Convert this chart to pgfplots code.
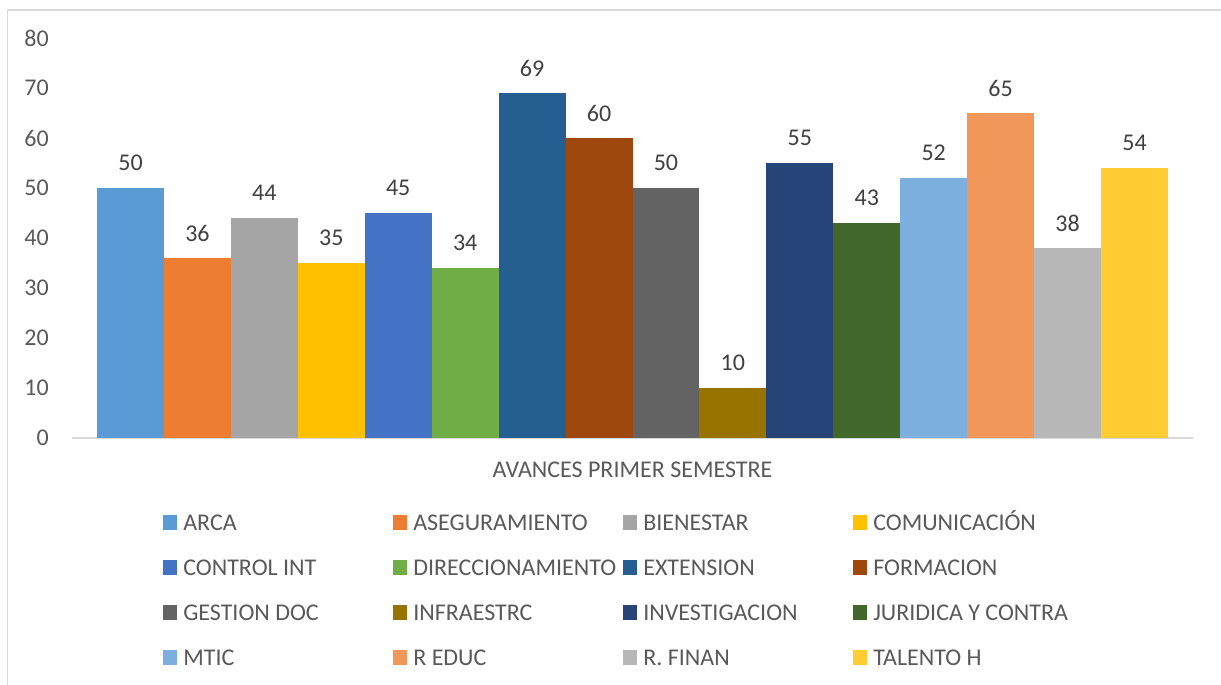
\documentclass[border=0pt]{standalone}
\usepackage{pgfplots}
\pgfplotsset{compat=1.18}
\usepackage{fontspec}
\setmainfont{Carlito}
\newlength\px \setlength\px{0.75pt}
\definecolor{c1}{HTML}{5B9BD5}
\definecolor{c2}{HTML}{ED7D31}
\definecolor{c3}{HTML}{A5A5A5}
\definecolor{c4}{HTML}{FFC000}
\definecolor{c5}{HTML}{4472C4}
\definecolor{c6}{HTML}{70AD47}
\definecolor{c7}{HTML}{255E91}
\definecolor{c8}{HTML}{9E480E}
\definecolor{c9}{HTML}{636363}
\definecolor{c10}{HTML}{997300}
\definecolor{c11}{HTML}{264478}
\definecolor{c12}{HTML}{43682B}
\definecolor{c13}{HTML}{7CAFDD}
\definecolor{c14}{HTML}{F1975A}
\definecolor{c15}{HTML}{B7B7B7}
\definecolor{c16}{HTML}{FFCD33}
\definecolor{txt}{HTML}{595959}
\definecolor{lbl}{HTML}{404040}
\definecolor{axl}{HTML}{D9D9D9}
\newcommand\lf{\fontsize{18}{21.6}\selectfont}
\newcommand\legtxt[1]{\makebox[209.7\px][l]{#1}}
\begin{document}
\begin{tikzpicture}
\useasboundingbox (0,0) rectangle (1221\px,685\px);
\draw[axl, line width=1.5\px] (7.5\px,0) -- (7.5\px,675.2\px) -- (1221\px,675.2\px);
\begin{axis}[
  at={(72\px,247\px)}, anchor=south west,
  scale only axis, width=1121\px, height=400\px,
  xmin=0.126, xmax=16.874, ymin=0, ymax=80,
  ybar, bar width=1,
  axis lines*=left,
  y axis line style={draw=none},
  x axis line style={axl, line width=1.5\px},
  major tick length=0pt,
  ytick={0,10,...,80},
  xtick={8.5}, xticklabels={AVANCES PRIMER SEMESTRE},
  /pgf/number format/assume math mode=true,
  tick label style={font=\lf, text=txt},
  yticklabel style={inner sep=0pt, xshift=-23\px},
  xticklabel style={anchor=center, inner sep=0pt, yshift=-31.5\px},
  nodes near coords,
  every node near coord/.append style={font=\lf, text=lbl, anchor=center, inner sep=0pt, yshift=25\px},
  legend columns=4,
  legend cell align=left,
  legend style={at={(axis description cs:0.08118,-0.1925)}, anchor=north west,
    draw=none, inner sep=0pt, outer sep=0pt, row sep=30\px, font=\lf, text=txt,
    nodes={inner sep=0pt, text height=15\px, text depth=0pt},
    /tikz/every odd column/.style={column sep=6\px},
    /tikz/every even column/.style={column sep=0pt}},
  legend image code/.code={\fill[#1] (0pt,-7.15\px) rectangle (14.3\px,7.15\px);},
]
\addplot[fill=c1, draw=none, bar shift=0pt] coordinates {(1,50)}; \addlegendentry{\legtxt{ARCA}}
\addplot[fill=c2, draw=none, bar shift=0pt] coordinates {(2,36)}; \addlegendentry{\legtxt{ASEGURAMIENTO}}
\addplot[fill=c3, draw=none, bar shift=0pt] coordinates {(3,44)}; \addlegendentry{\legtxt{BIENESTAR}}
\addplot[fill=c4, draw=none, bar shift=0pt] coordinates {(4,35)}; \addlegendentry{\legtxt{COMUNICACIÓN}}
\addplot[fill=c5, draw=none, bar shift=0pt] coordinates {(5,45)}; \addlegendentry{\legtxt{CONTROL INT}}
\addplot[fill=c6, draw=none, bar shift=0pt] coordinates {(6,34)}; \addlegendentry{\legtxt{DIRECCIONAMIENTO}}
\addplot[fill=c7, draw=none, bar shift=0pt] coordinates {(7,69)}; \addlegendentry{\legtxt{EXTENSION}}
\addplot[fill=c8, draw=none, bar shift=0pt] coordinates {(8,60)}; \addlegendentry{\legtxt{FORMACION}}
\addplot[fill=c9, draw=none, bar shift=0pt] coordinates {(9,50)}; \addlegendentry{\legtxt{GESTION DOC}}
\addplot[fill=c10, draw=none, bar shift=0pt] coordinates {(10,10)}; \addlegendentry{\legtxt{INFRAESTRC}}
\addplot[fill=c11, draw=none, bar shift=0pt] coordinates {(11,55)}; \addlegendentry{\legtxt{INVESTIGACION}}
\addplot[fill=c12, draw=none, bar shift=0pt] coordinates {(12,43)}; \addlegendentry{\legtxt{JURIDICA Y CONTRA}}
\addplot[fill=c13, draw=none, bar shift=0pt] coordinates {(13,52)}; \addlegendentry{\legtxt{MTIC}}
\addplot[fill=c14, draw=none, bar shift=0pt] coordinates {(14,65)}; \addlegendentry{\legtxt{R EDUC}}
\addplot[fill=c15, draw=none, bar shift=0pt] coordinates {(15,38)}; \addlegendentry{\legtxt{R. FINAN}}
\addplot[fill=c16, draw=none, bar shift=0pt] coordinates {(16,54)}; \addlegendentry{\legtxt{TALENTO H}}
\end{axis}
\end{tikzpicture}
\end{document}
